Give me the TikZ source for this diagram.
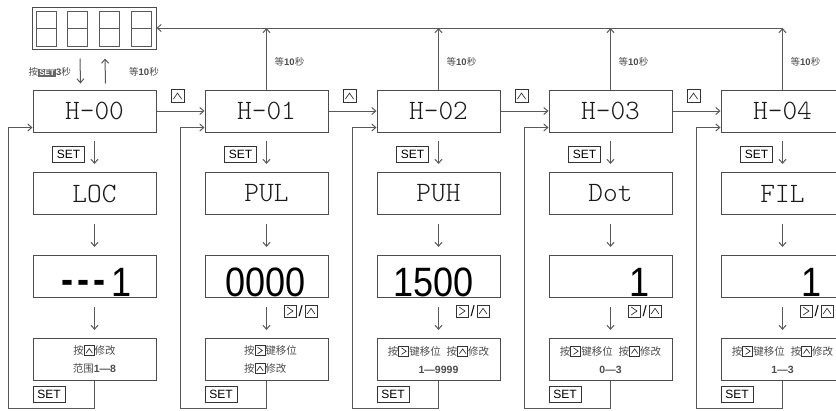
\documentclass[tikz,border=0pt]{standalone}
\usepackage{fontspec}
\usetikzlibrary{arrows.meta,calc}
\newfontfamily\cjk{Noto Sans CJK SC}
\newfontfamily\arialf{Liberation Sans}
\newfontfamily\hfont{lmmonolt10-regular}[Extension=.otf]
\newcommand\bfnum{\arialf\bfseries}
\newcommand\upk[1][1]{\tikz[x=1pt,y=1pt,baseline=1pt,scale=#1]{\draw[draw=black!80,line width=0.8pt] (0,0) rectangle (10,10); \draw[draw=black!80,line width=0.7pt] (1.8,2.6) -- (5,7.2) -- (8.2,2.6);}}
\newcommand\rtk[1][1]{\tikz[x=1pt,y=1pt,baseline=1pt,scale=#1]{\draw[draw=black!80,line width=0.8pt] (0,0) rectangle (10,10); \draw[draw=black!80,line width=0.7pt] (2.6,8.3) -- (7.4,5) -- (2.6,1.7);}}
\newcommand\setsmall{\tikz[baseline=(ss.base)]\node[fill=black!60,text=white,inner xsep=1.2pt,inner ysep=1.2pt,font=\arialf\bfseries\fontsize{8}{8}\selectfont](ss){SET};}
\tikzset{
  box/.style={draw=black!70, line width=1pt, minimum width=123pt, minimum height=42pt, inner sep=0pt},
  hbox/.style={box, font=\hfont\fontsize{28}{28}\selectfont, text=black!90},
  arr/.style={draw=black!65, line width=1pt, -{Straight Barb[length=4pt,width=7pt]}},
  ln/.style={draw=black!65, line width=1pt},
  txt/.style={font=\cjk\fontsize{10.5}{18}\selectfont, text=black!70, align=center},
  lbl/.style={font=\cjk\fontsize{9.5}{10}\selectfont, text=black!70, inner sep=0pt},
  setbox/.style={draw=black!80, line width=0.8pt, font=\arialf\fontsize{12}{12}\selectfont, minimum width=32pt, minimum height=16pt, inner sep=0pt},
  valtxt/.style={font=\arialf\fontsize{41}{41}\selectfont, xscale=0.88, inner sep=0pt}
}
\begin{document}
\begin{tikzpicture}[x=1pt,y=-1pt]
\useasboundingbox (0,0) rectangle (836,410);
% display
\node[box, minimum width=124pt] (disp) at (94,28) {};
\foreach \i in {0,1,2,3}{
  \draw[ln] (36+31.7*\i,11) rectangle ++(20,35);
  \draw[ln] (36+31.7*\i,28.5) -- ++(20,0);
}
% columns
\foreach \k/\L/\hn/\pn in {0/33/00/LOC,1/205/01/PUL,2/377/02/PUH,3/549/03/Dot,4/721/04/FIL}{
  \pgfmathsetmacro\cx{\L+61.5}
  \node[hbox] (h\k) at (\cx,111) {H–\hn};
  \node[hbox] (p\k) at (\cx,193.5) {\pn};
  \node[box] (v\k) at (\cx,276.5) {};
  \node[setbox] (sa\k) at (\cx-26,154) {SET};
  \node[setbox] (s\k) at (\L+16,394.5) {SET};
  \coordinate (c\k) at (\L-25,408);
  \draw[arr] ([yshift=-8pt]h\k.south) -- ([yshift=8pt]p\k.north);
  \draw[arr] ([yshift=-9pt]p\k.south) -- ([yshift=8pt]v\k.north);
}
% text boxes
\node[box, txt] (t0) at (94.5,359.5) {按\upk{}修改\\范围{\bfnum 1—8}};
\node[box, txt, align=left] (t1) at (266.5,359.5) {\hspace*{8pt}按\rtk{}键移位\\\hspace*{8pt}按\upk{}修改};
\node[box, txt] (t2) at (438.5,359.5) {按\rtk{}键移位\hspace{6pt}按\upk{}修改\\{\bfnum 1—9999}};
\node[box, txt] (t3) at (610.5,359.5) {按\rtk{}键移位\hspace{6pt}按\upk{}修改\\{\bfnum 0—3}};
\node[box, txt] (t4) at (782.5,359.5) {按\rtk{}键移位\hspace{6pt}按\upk{}修改\\{\bfnum 1—3}};
% values
\node[valtxt, anchor=base east] (n0) at ([xshift=-25pt,yshift=2pt]v0.south east) {{\bfseries\raisebox{3pt}{-\hspace{5pt}-\hspace{5pt}-}}\hspace{6pt}1};
\node[valtxt, anchor=base east] (n1) at ([xshift=-23pt,yshift=2pt]v1.south east) {0000};
\node[valtxt, anchor=base east] (n2) at ([xshift=-27pt,yshift=2pt]v2.south east) {1500};
\node[valtxt, anchor=base east] (n3) at ([xshift=-23pt,yshift=2pt]v3.south east) {1};
\node[valtxt, anchor=base east] (n4) at ([xshift=-23pt,yshift=2pt]v4.south east) {1};
% arrows value -> text, loops
\foreach \k in {0,1,2,3,4}{
  \draw[arr] ([yshift=-9pt]v\k.south) -- ([yshift=8pt]t\k.north);
  \draw[arr] (t\k.south) |- (c\k) |- ([yshift=5pt]h\k.south west);
}
\foreach \k/\cx in {1/266.5,2/438.5,3/610.5,4/782.5}{
  \node[inner sep=0pt, anchor=west] (kk\k) at (\cx+17,311) {\rtk[1.2]\hspace{2pt}{\arialf\fontsize{15}{15}\selectfont /}\hspace{2pt}\upk[1.2]};
  \draw[arr] (h\k.north) -- (h\k.north |- disp.east);
  \node[lbl, anchor=west] (w\k) at (\cx+8,62) {等{\bfnum 10}秒};
}
\draw[arr] (h4.north |- disp.east) -- (disp.east);
% horizontal arrows
\foreach \k/\nk in {0/1,1/2,2/3,3/4}{
  \draw[arr] (h\k.east) -- (h\nk.west);
  \node[inner sep=0pt] (u\k) at ([xshift=21pt,yshift=15pt]h\k.east) {\upk[1.3]};
}
% display <-> H-00
\draw[arr] ([xshift=-14pt,yshift=-9pt]disp.south) -- ([xshift=-14pt,yshift=6pt]h0.north);
\draw[arr] ([xshift=11pt,yshift=6pt]h0.north) -- ([xshift=11pt,yshift=-9pt]disp.south);
\node[lbl, anchor=east] (l1) at (71,72) {按\setsmall{}{\bfnum 3}秒};
\node[lbl, anchor=west] (l2) at (129,72) {等{\bfnum 10}秒};
\end{tikzpicture}
\end{document}
